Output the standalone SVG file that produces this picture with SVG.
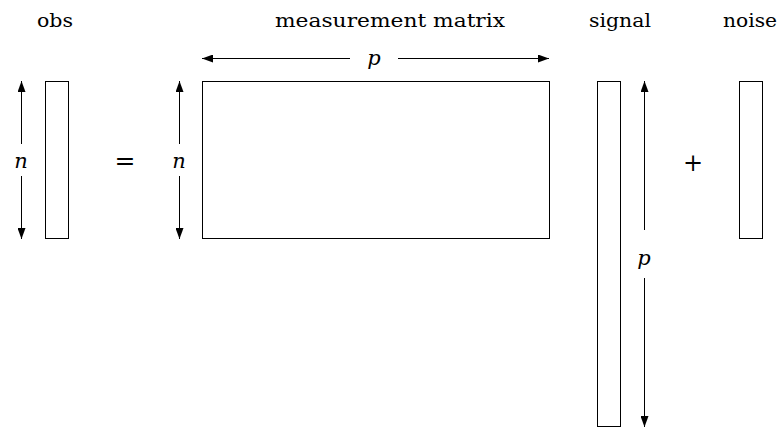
<svg xmlns="http://www.w3.org/2000/svg" width="779" height="429" viewBox="0 0 779 429">
<style>
.box{fill:#fff;stroke:#000;stroke-width:1}
.ln{stroke:#000;stroke-width:1;fill:none;marker-end:url(#ah)}
text{fill:#000;text-anchor:middle}
</style>
<defs>
<marker id="ah" markerWidth="11" markerHeight="8" refX="11" refY="4" orient="auto" markerUnits="userSpaceOnUse">
<path d="M0,0 L11,4 L0,8 z" fill="#000"/>
</marker>
</defs>
<g id="labels" font-family="'DejaVu Serif', serif" font-size="19">
<text x="55" y="27" textLength="36" lengthAdjust="spacingAndGlyphs">obs</text>
<text x="390" y="27" textLength="230" lengthAdjust="spacingAndGlyphs">measurement matrix</text>
<text x="620" y="27" textLength="62" lengthAdjust="spacingAndGlyphs">signal</text>
<text x="750" y="27" textLength="54" lengthAdjust="spacingAndGlyphs">noise</text>
<text x="125" y="169" font-size="25" font-weight="300">=</text>
<text x="693" y="171" font-size="24" font-weight="300">+</text>
</g>
<g id="obs"><rect class="box" x="45.5" y="81.5" width="23" height="157"/></g>
<g id="matrix"><rect class="box" x="202.5" y="81.5" width="347" height="157"/></g>
<g id="signal"><rect class="box" x="597.5" y="81.5" width="23" height="345"/></g>
<g id="noise"><rect class="box" x="739.5" y="81.5" width="23" height="157"/></g>
<g id="connectors">
<line class="ln" x1="21.5" y1="144" x2="21.5" y2="81"/>
<line class="ln" x1="21.5" y1="176" x2="21.5" y2="239"/>
<line class="ln" x1="179.5" y1="144" x2="179.5" y2="81"/>
<line class="ln" x1="179.5" y1="176" x2="179.5" y2="239"/>
<line class="ln" x1="350" y1="58.5" x2="202" y2="58.5"/>
<line class="ln" x1="398" y1="58.5" x2="549" y2="58.5"/>
<line class="ln" x1="644.5" y1="230" x2="644.5" y2="81"/>
<line class="ln" x1="644.5" y1="278" x2="644.5" y2="427"/>
</g>
<g id="dimlabels" font-family="'DejaVu Serif', serif" font-size="21" font-style="italic">
<text x="21" y="168">n</text>
<text x="179" y="168">n</text>
<text x="374" y="65">p</text>
<text x="644" y="265">p</text>
</g>
</svg>
